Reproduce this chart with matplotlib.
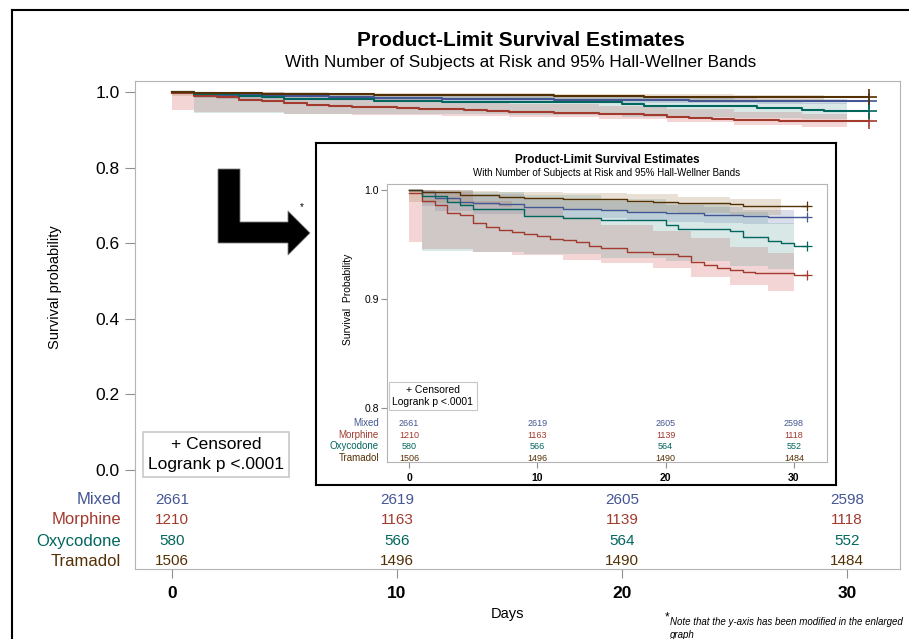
import matplotlib
matplotlib.use("Agg")
import matplotlib.pyplot as plt
from matplotlib.patches import Polygon
from matplotlib.lines import Line2D

plt.rcParams['font.family'] = ['Liberation Sans', 'DejaVu Sans']

W, H = 909, 639

# ---- data ----
groups = ['Mixed', 'Morphine', 'Oxycodone', 'Tramadol']
line_colors = ['#445694', '#A23A2E', '#01665E', '#543005']
band_colors = ['#6F7EB3', '#D05B5B', '#66A5A0', '#A9865B']

mixed_t = [0, 1, 2, 4, 5, 7, 9, 12, 15, 17, 20, 23, 26, 28]
mixed_s = [1.0, 0.9985, 0.9924, 0.9893, 0.9885, 0.9870, 0.9847, 0.9826, 0.9816, 0.9800, 0.9786, 0.9773, 0.9766, 0.9755]
morph_t = [0, 1, 2, 3, 4, 5, 6, 7, 8, 9, 10, 11, 12, 13, 14, 15, 17, 19, 21, 22, 23, 24, 25, 26, 27, 30]
morph_s = [0.997, 0.990, 0.986, 0.979, 0.977, 0.970, 0.966, 0.963, 0.9615, 0.9597, 0.958, 0.955, 0.954, 0.952,
           0.9486, 0.9465, 0.9434, 0.9413, 0.939, 0.934, 0.931, 0.9287, 0.9266, 0.925, 0.9236, 0.922]
oxy_t = [0, 1, 3, 4, 5, 9, 12, 15, 20, 21, 25, 26, 28, 29, 30]
oxy_s = [1.0, 0.9945, 0.9890, 0.9860, 0.9826, 0.9760, 0.9746, 0.9725, 0.9680, 0.9640, 0.9620, 0.9566, 0.9530, 0.9510, 0.9486]
tram_t = [0, 1, 4, 7, 9, 12, 17, 19, 21, 25, 26]
tram_s = [1.0, 0.9985, 0.9954, 0.9939, 0.9924, 0.9914, 0.9896, 0.9889, 0.9880, 0.9868, 0.9856]
censor_day = 31

# Hall-Wellner bands (last time = end of band)
mixed_bt = [1, 2, 5, 9, 12, 17, 20, 23, 26, 30]
mixed_lo = [0.985, 0.981, 0.978, 0.976, 0.974, 0.972, 0.971, 0.970, 0.969, 0.969]
mixed_hi = [1.0, 0.998, 0.996, 0.993, 0.990, 0.988, 0.986, 0.984, 0.982, 0.982]
morph_bt = [0, 1, 5, 8, 12, 15, 19, 22, 25, 28, 30]
morph_lo = [0.952, 0.946, 0.943, 0.940, 0.936, 0.933, 0.928, 0.920, 0.913, 0.907, 0.905]
morph_hi = [1.0, 1.0, 0.990, 0.984, 0.975, 0.968, 0.962, 0.956, 0.948, 0.942, 0.940]
oxy_bt = [1, 5, 9, 15, 20, 25, 28, 30]
oxy_lo = [0.944, 0.943, 0.941, 0.938, 0.935, 0.930, 0.9275, 0.9275]
oxy_hi = [1.0, 0.998, 0.995, 0.992, 0.988, 0.980, 0.970, 0.970]
tram_bt = [0, 1, 4, 7, 12, 17, 21, 25, 29]
tram_lo = [0.989, 0.988, 0.986, 0.984, 0.982, 0.980, 0.979, 0.977, 0.977]
tram_hi = [1.0, 1.0, 0.999, 0.998, 0.997, 0.996, 0.994, 0.992, 0.992]

risk_days = [0, 10, 20, 30]
risk_mixed = [2661, 2619, 2605, 2598]
risk_morph = [1210, 1163, 1139, 1118]
risk_oxy = [580, 566, 564, 552]
risk_tram = [1506, 1496, 1490, 1484]

curves = [(mixed_t, mixed_s), (morph_t, morph_s), (oxy_t, oxy_s), (tram_t, tram_s)]
bands = [(mixed_bt, mixed_lo, mixed_hi), (morph_bt, morph_lo, morph_hi),
         (oxy_bt, oxy_lo, oxy_hi), (tram_bt, tram_lo, tram_hi)]
risks = [risk_mixed, risk_morph, risk_oxy, risk_tram]


def fx(px):
    return px / W


def fy(py):
    return 1 - py / H


def draw_km(ax, lw, ms, mew):
    for (bt, lo, hi), c in zip(bands, band_colors):
        ax.fill_between(bt, lo, hi, step='post', color=c, alpha=0.25, lw=0, zorder=1)
    for (t, s), c in zip(curves, line_colors):
        ax.step(t + [censor_day], s + [s[-1]], where='post', color=c, lw=lw, zorder=3)
        ax.plot([censor_day], [s[-1]], marker='+', ms=ms, mew=mew, color=c, zorder=4)


fig = plt.figure(figsize=(W / 100, H / 100), dpi=100)

# outer frame (left and top only visible)
fig.add_artist(Line2D([fx(12), fx(12)], [fy(10), 0], color='black', lw=1.5))
fig.add_artist(Line2D([fx(12), 1], [fy(10), fy(10)], color='black', lw=1.5))

# ---------- main chart ----------
ax = fig.add_axes([fx(135), fy(569), fx(900) - fx(135), fy(81) - fy(569)])
ax.set_xlim(-1.644, 32.36)
ax.set_ylim(-0.2619, 1.0291)
draw_km(ax, 1.5, 12, 1.2)
for sp in ax.spines.values():
    sp.set_color('#b4b4b4')
ax.set_yticks([0.0, 0.2, 0.4, 0.6, 0.8, 1.0])
ax.set_yticklabels(['0.0', '0.2', '0.4', '0.6', '0.8', '1.0'], fontsize=12.5)
ax.set_xticks(risk_days)
ax.set_xticklabels([str(d) for d in risk_days], fontsize=12.5, fontweight='bold')
ax.tick_params(axis='y', length=7, color='#909090', pad=4, left=True)
ax.tick_params(axis='x', length=6.5, color='#909090', pad=6)

row_y = [-0.079, -0.132, -0.188, -0.241]
for g, c, r, yy in zip(groups, line_colors, risks, row_y):
    ax.text(-2.27, yy, g, color=c, fontsize=12, ha='right', va='center')
    for d, v in zip(risk_days, r):
        ax.text(d, yy, str(v), color=c, fontsize=11, ha='center', va='center')

ax.text(fx(216), fy(454.5), '+ Censored\nLogrank p <.0001', transform=fig.transFigure,
        fontsize=12.5, ha='center', va='center', linespacing=1.45,
        bbox=dict(boxstyle='square,pad=0.3', fc='white', ec='#c8c8c8', lw=1.2))

fig.text(fx(521), fy(40), 'Product-Limit Survival Estimates', fontsize=15, fontweight='bold',
         ha='center', va='center')
fig.text(fx(521), fy(62), 'With Number of Subjects at Risk and 95% Hall-Wellner Bands', fontsize=12.3,
         ha='center', va='center')
fig.text(fx(55), fy(287), 'Survival probability', rotation=90, fontsize=10.5, ha='center', va='center')
fig.text(fx(507), fy(614), 'Days', fontsize=10.5, ha='center', va='center')
fig.text(fx(665), fy(617), '*', fontsize=8.5, ha='left', va='center')
fig.text(fx(670), fy(622), 'Note that the y-axis has been modified in the enlarged', fontsize=7,
         style='italic', ha='left', va='center')
fig.text(fx(670), fy(635), 'graph', fontsize=7, style='italic', ha='left', va='center')

# arrow pointing to the enlarged graph
arrow_px = [(218, 169), (240, 169), (240, 222), (288, 222), (288, 211), (310, 233),
            (288, 255), (288, 243), (218, 243)]
fig.add_artist(Polygon([(fx(x), fy(y)) for x, y in arrow_px], closed=True, transform=fig.transFigure,
                       fc='black', ec='#808080', lw=0.6))
fig.text(fx(302), fy(207), '*', fontsize=7, ha='center', va='center')

# ---------- enlarged inset ----------
frame = fig.add_axes([fx(316), fy(485), fx(836) - fx(316), fy(143) - fy(485)], zorder=2)
frame.set_xticks([])
frame.set_yticks([])
for sp in frame.spines.values():
    sp.set_color('black')
    sp.set_linewidth(1.5)

axi = fig.add_axes([fx(387), fy(462), fx(827) - fx(387), fy(184) - fy(462)], zorder=3)
axi.set_xlim(-1.715, 32.58)
axi.set_ylim(0.7505, 1.0055)
draw_km(axi, 1.0, 7, 0.9)
for sp in axi.spines.values():
    sp.set_color('#b4b4b4')
axi.set_yticks([0.8, 0.9, 1.0])
axi.set_yticklabels(['0.8', '0.9', '1.0'], fontsize=7.5)
axi.set_xticks(risk_days)
axi.set_xticklabels([str(d) for d in risk_days], fontsize=7.5, fontweight='bold')
axi.tick_params(axis='y', length=4, color='#909090', pad=2)
axi.tick_params(axis='x', length=4, color='#909090', pad=4)

irow_y = [0.786, 0.775, 0.765, 0.754]
for g, c, r, yy in zip(groups, line_colors, risks, irow_y):
    axi.text(-2.34, yy, g, color=c, fontsize=7, ha='right', va='center')
    for d, v in zip(risk_days, r):
        axi.text(d, yy, str(v), color=c, fontsize=6.5, ha='center', va='center')

axi.text(fx(433), fy(396), '+ Censored\nLogrank p <.0001', transform=fig.transFigure,
         fontsize=7.5, ha='center', va='center', linespacing=1.3, zorder=6,
         bbox=dict(boxstyle='square,pad=0.3', fc='white', ec='#c8c8c8', lw=0.8))

fig.text(fx(607), fy(160), 'Product-Limit Survival Estimates', fontsize=8.5, fontweight='bold',
         ha='center', va='center', zorder=4)
fig.text(fx(607), fy(173), 'With Number of Subjects at Risk and 95% Hall-Wellner Bands', fontsize=7,
         ha='center', va='center', zorder=4)
fig.text(fx(348), fy(299), 'Survival  Probability', rotation=90, fontsize=7.5, ha='center', va='center',
         zorder=4)

fig.savefig('out.png', dpi=100)
